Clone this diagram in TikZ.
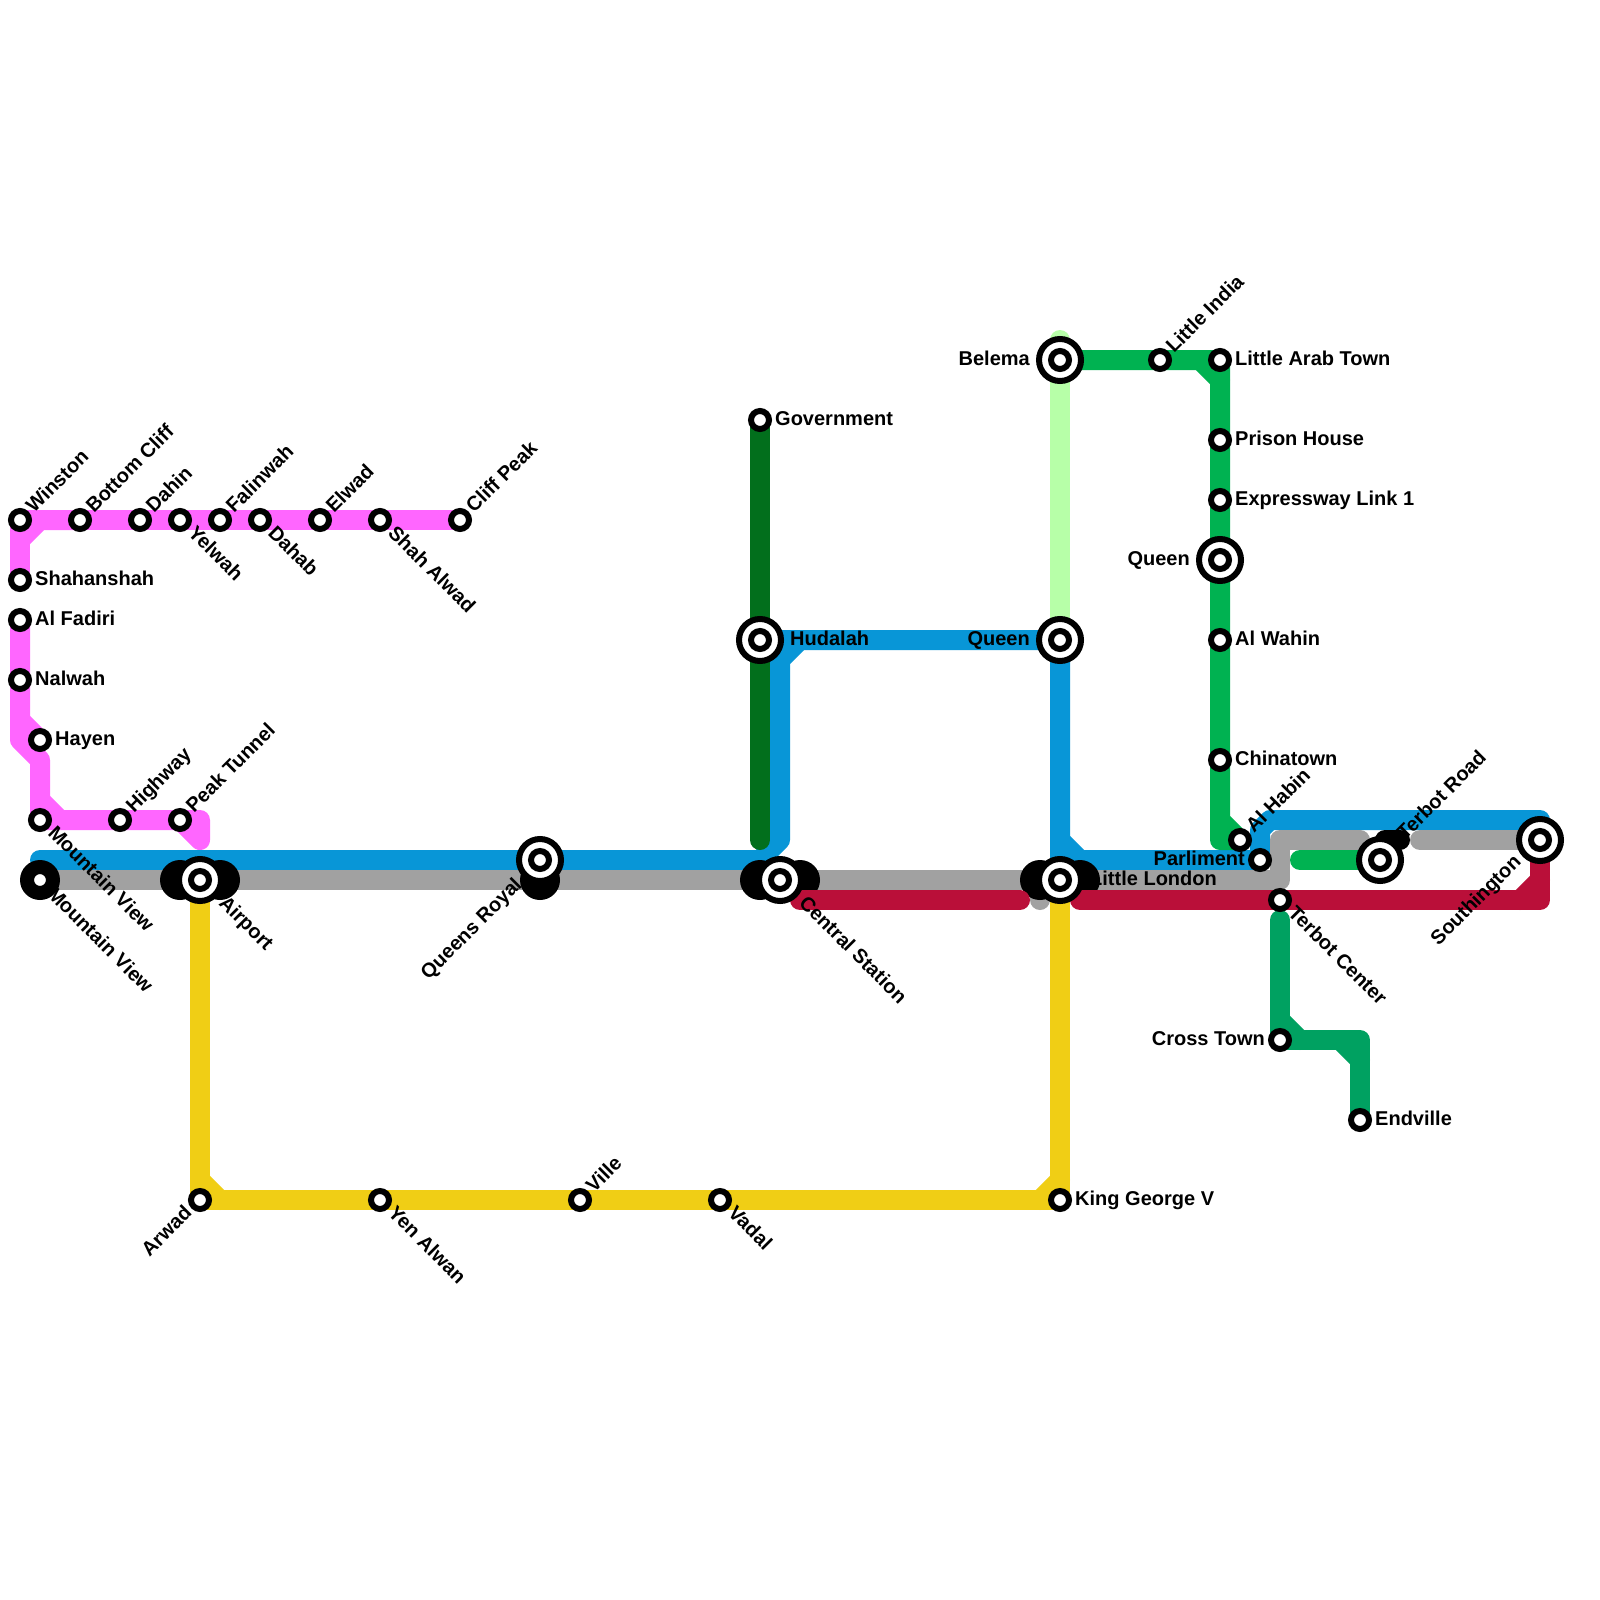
\documentclass[tikz,border=0pt]{standalone}
\usepackage{fontspec}
\setmainfont{Liberation Sans}[BoldFont={Liberation Sans Bold}]
\usetikzlibrary{calc}
\definecolor{cpink}{HTML}{FF66FF}
\definecolor{cblue}{HTML}{0896D7}
\definecolor{cgray}{HTML}{A1A1A1}
\definecolor{cred}{HTML}{BA0F39}
\definecolor{cyellow}{HTML}{F0CE15}
\definecolor{cdark}{HTML}{026F1C}
\definecolor{clight}{HTML}{B7FFA8}
\definecolor{cgreen}{HTML}{00B251}
\definecolor{cteal}{HTML}{00A161}
\tikzset{
  x=1pt,y=-1pt,
  route/.style={line width=20pt,line cap=round,line join=round},
  stop/.style={circle,draw=black,fill=white,line width=6pt,minimum size=18pt,inner sep=0pt,outer sep=0pt},
  hubout/.style={circle,draw=black,fill=white,line width=6pt,minimum size=42pt,inner sep=0pt,outer sep=0pt},
  blob/.style={circle,fill=black,minimum size=40pt,inner sep=0pt,outer sep=0pt},
  lab/.style={font=\fontsize{20}{22}\selectfont\bfseries,inner sep=0pt,text=black},
}
\newcommand{\st}[3]{\coordinate (#1) at (#2,#3);}
\newcommand{\stp}[1]{\node[stop] (n#1) at (#1) {};}
\newcommand{\hub}[1]{\node[hubout] (h#1) at (#1) {};\node[stop] (n#1) at (#1) {};}
\newcommand{\lE}[2]{\node[lab,anchor=base west] (l#1) at ($(#1)+(15,5)$) {#2};}
\newcommand{\lW}[2]{\node[lab,anchor=base east] (l#1) at ($(#1)+(-15,5)$) {#2};}
\newcommand{\lNE}[2]{\node[lab,rotate=45,anchor=base west] (l#1) at ($(#1)+(14,-6)$) {#2};}
\newcommand{\lSE}[2]{\node[lab,rotate=-45,anchor=base west] (l#1) at ($(#1)+(7,14)$) {#2};}
\newcommand{\lat}[5]{\node[lab,rotate=#3,anchor=#4] (l#1) at ($(#1)+#2$) {#5};}
\begin{document}
\begin{tikzpicture}
\useasboundingbox (0,0) rectangle (1600,1600);
\fill[white] (0,0) rectangle (1600,1600);
% stations
\st{winston}{20}{520}\st{bottom}{80}{520}\st{dahin}{140}{520}\st{yelwah}{180}{520}\st{falinwah}{220}{520}
\st{dahab}{260}{520}\st{elwad}{320}{520}\st{shah}{380}{520}\st{cliff}{460}{520}
\st{shahan}{20}{580}\st{fadiri}{20}{620}\st{nalwah}{20}{680}\st{hayen}{40}{740}
\st{mv}{40}{820}\st{highway}{120}{820}\st{peak}{180}{820}
\st{mvb}{40}{880}\st{airport}{200}{880}\st{royal}{540}{860}\st{central}{780}{880}
\st{london}{1060}{880}\st{arwad}{200}{1200}\st{yen}{380}{1200}\st{ville}{580}{1200}\st{vadal}{720}{1200}
\st{george}{1060}{1200}\st{government}{760}{420}\st{hudalah}{760}{640}\st{queenb}{1060}{640}
\st{belema}{1060}{360}\st{india}{1160}{360}\st{arab}{1220}{360}\st{prison}{1220}{440}\st{express}{1220}{500}
\st{queeng}{1220}{560}\st{wahin}{1220}{640}\st{china}{1220}{760}\st{habin}{1240}{840}\st{parliment}{1260}{860}
\st{tcenter}{1280}{900}\st{cross}{1280}{1040}\st{endville}{1360}{1120}\st{troad}{1380}{860}\st{south}{1540}{840}
% blue
\draw[route,cblue] (40,860) -- (760,860) -- (780,840) -- (780,660) -- (800,640);
\draw[route,cblue] (780,660) -- (hudalah) -- (queenb) -- (london);
\draw[route,cblue] (1060,840) -- (1080,860) -- (parliment) -- (1260,830) -- (1270,820) -- (1540,820) -- (south);
% gray
\draw[route,cgray] (mvb) -- (1280,880) -- (1280,840) -- (1360,840);
\draw[route,cgray] (1420,840) -- (south);
\draw[route,cgray] (1040,880) -- (1040,900);
% pink
\draw[route,cpink] (cliff) -- (winston) -- (shahan);
\draw[route,cpink] (bottom) -- (40,520) -- (20,540);
\draw[route,cpink] (fadiri) -- (20,740) -- (40,760) -- (mv) -- (peak) -- (200,820) -- (200,840) -- (peak);
\draw[route,cpink] (20,720) -- (hayen);
\draw[route,cpink] (40,800) -- (60,820);
% dark green
\draw[route,cdark] (government) -- (760,840);
% light green
\draw[route,clight] (1060,340) -- (queenb);
% green
\draw[route,cgreen] (belema) -- (arab) -- (1220,820) -- (habin) -- (1220,840) -- (1220,820);
\draw[route,cgreen] (1200,360) -- (1220,380);
\draw[route,cgreen] (1300,860) -- (troad);
% teal
\draw[route,cteal] (1280,920) -- (cross) -- (1360,1040) -- (endville);
\draw[route,cteal] (1280,1020) -- (1300,1040);
\draw[route,cteal] (1340,1040) -- (1360,1060);
% black blobs
\node[blob] (bmv) at (mvb) {};
\node[blob] (ba1) at (180,880) {};
\node[blob] (ba2) at (220,880) {};
\node[blob] (br) at (540,880) {};
\node[blob] (bc1) at (760,880) {};
\node[blob] (bc2) at (800,880) {};
\node[blob] (bl1) at (1040,880) {};
\node[blob] (bl2) at (1080,880) {};
\draw[route,black] (1385,840) -- (1400,840);
% red
\draw[route,cred] (800,900) -- (1020,900);
\draw[route,cred] (1080,900) -- (1540,900) -- (south);
\draw[route,cred] (1520,900) -- (1540,880);
% yellow
\draw[route,cyellow] (airport) -- (arwad) -- (george) -- (london);
\draw[route,cyellow] (200,1180) -- (220,1200);
\draw[route,cyellow] (1040,1200) -- (1060,1180);
% station marks
\stp{winston}\stp{bottom}\stp{dahin}\stp{yelwah}\stp{falinwah}\stp{dahab}\stp{elwad}\stp{shah}\stp{cliff}
\stp{shahan}\stp{fadiri}\stp{nalwah}\stp{hayen}\stp{mv}\stp{highway}\stp{peak}\stp{mvb}
\stp{arwad}\stp{yen}\stp{ville}\stp{vadal}\stp{george}\stp{government}\stp{india}\stp{arab}\stp{prison}\stp{express}
\stp{wahin}\stp{china}\stp{habin}\stp{parliment}\stp{tcenter}\stp{cross}\stp{endville}
\hub{airport}\hub{royal}\hub{central}\hub{london}\hub{hudalah}\hub{queenb}\hub{belema}\hub{queeng}\hub{troad}\hub{south}
% labels
\lNE{winston}{Winston}\lNE{bottom}{Bottom Cliff}\lNE{dahin}{Dahin}\lSE{yelwah}{Yelwah}\lNE{falinwah}{Falinwah}
\lSE{dahab}{Dahab}\lNE{elwad}{Elwad}\lSE{shah}{Shah Alwad}\lNE{cliff}{Cliff Peak}
\lE{shahan}{Shahanshah}\lE{fadiri}{Al Fadiri}\lE{nalwah}{Nalwah}\lE{hayen}{Hayen}
\lSE{mv}{Mountain View}\lNE{highway}{Highway}\lNE{peak}{Peak Tunnel}
\lat{mvb}{(6,15)}{-45}{base west}{Mountain View}
\lat{airport}{(18,24)}{-45}{base west}{Airport}
\lat{royal}{(-17,26)}{45}{base east}{Queens Royal}
\lat{central}{(18,24)}{-45}{base west}{Central Station}
\lat{london}{(30,5)}{0}{base west}{Little London}
\lat{arwad}{(-7,14)}{45}{base east}{Arwad}
\lSE{yen}{Yen Alwan}\lNE{ville}{Ville}\lSE{vadal}{Vadal}\lE{george}{King George V}
\lE{government}{Government}
\lat{hudalah}{(30,5)}{0}{base west}{Hudalah}
\lat{queenb}{(-30,5)}{0}{base east}{Queen}
\lat{belema}{(-30,5)}{0}{base east}{Belema}
\lNE{india}{Little India}\lE{arab}{Little Arab Town}\lE{prison}{Prison House}\lE{express}{Expressway Link 1}
\lat{queeng}{(-30,5)}{0}{base east}{Queen}
\lE{wahin}{Al Wahin}\lE{china}{Chinatown}\lNE{habin}{Al Habin}\lW{parliment}{Parliment}
\lSE{tcenter}{Terbot Center}\lW{cross}{Cross Town}\lE{endville}{Endville}
\lat{troad}{(25,-19)}{45}{base west}{Terbot Road}
\lat{south}{(-18,23)}{45}{base east}{Southington}
\end{tikzpicture}
\end{document}
